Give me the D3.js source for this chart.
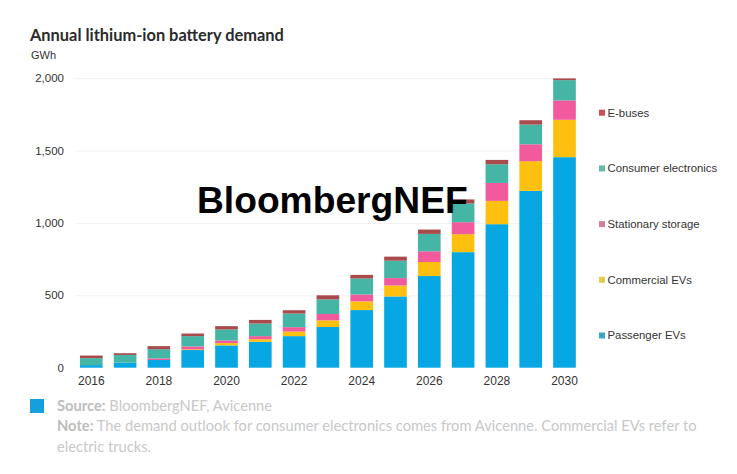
<!DOCTYPE html>
<html>
<head>
<meta charset="utf-8">
<script src="https://cdn.jsdelivr.net/npm/d3@7"></script>
<style>
html, body { margin: 0; padding: 0; background: #fff; }
svg { display: block; }
</style>
</head>
<body>
<div id="chart"></div>
<script>
const years = [2016, 2017, 2018, 2019, 2020, 2021, 2022, 2023, 2024, 2025, 2026, 2027, 2028, 2029, 2030];
const year_ticks = [2016, 2018, 2020, 2022, 2024, 2026, 2028, 2030];
const value_ticks = [0, 500, 1000, 1500, 2000];

const passenger_evs = [18, 35, 53, 122, 154, 179, 218, 281, 398, 492, 633, 798, 991, 1221, 1454];
const commercial_evs = [0, 0, 0, 5, 16, 18, 32, 46, 60, 76, 97, 124, 161, 205, 258];
const stationary_storage = [0, 0, 11, 20, 18, 21, 30, 44, 48, 51, 74, 83, 124, 117, 134];
const consumer_electronics = [48, 53, 64, 71, 76, 87, 94, 101, 110, 120, 120, 129, 129, 136, 140];
const e_buses = [18, 12, 21, 18, 23, 25, 23, 28, 25, 28, 30, 28, 30, 30, 12];

const series_names = ["Passenger EVs", "Commercial EVs", "Stationary storage", "Consumer electronics", "E-buses"];
const series_values = [passenger_evs, commercial_evs, stationary_storage, consumer_electronics, e_buses];
const bar_colors = ["#06a7e2", "#fdc00f", "#f15b9e", "#45b5a5", "#a94a4c"];
const legend_colors = ["#3ba5c0", "#e3cc4e", "#d27ea1", "#66b8a7", "#c94f54"];

const chart_width = 737;
const chart_height = 474;
const label_font = "'Liberation Sans', Arial, sans-serif";
const note_font = "Lato, sans-serif";

const svg = d3.select("#chart").append("svg")
    .attr("width", chart_width)
    .attr("height", chart_height)
    .attr("viewBox", [0, 0, chart_width, chart_height]);

svg.append("rect")
    .attr("width", chart_width)
    .attr("height", chart_height)
    .attr("fill", "#fff");

const x = d3.scaleBand()
    .domain(years)
    .range([74.4, 581.4])
    .paddingInner(0.33)
    .paddingOuter(0.165);

const y = d3.scaleLinear()
    .domain([0, 2000])
    .range([367.7, 78.1]);

// Stack the series from the bottom up
const rows = years.map((year, i) => {
    const row = {year: year};
    series_names.forEach((name, s) => row[name] = series_values[s][i]);
    return row;
});
const stacked = d3.stack().keys(series_names)(rows);

// Axes
const y_axis = svg.append("g")
    .attr("transform", "translate(75,0)")
    .call(d3.axisLeft(y)
        .tickValues(value_ticks)
        .tickSize(-502)
        .tickPadding(11)
        .tickFormat(d3.format(",")));
y_axis.select(".domain").remove();
y_axis.selectAll("line").attr("stroke", "#f4f0f4");
y_axis.selectAll(".tick").filter(d => d === 0).select("line").remove();
y_axis.selectAll("text")
    .attr("fill", "#333")
    .attr("font-family", label_font)
    .attr("font-size", 11.5);

const x_axis = svg.append("g")
    .attr("transform", "translate(0,367.7)")
    .call(d3.axisBottom(x)
        .tickValues(year_ticks)
        .tickSize(0)
        .tickPadding(9));
x_axis.select(".domain").remove();
x_axis.selectAll("text")
    .attr("fill", "#333")
    .attr("font-family", label_font)
    .attr("font-size", 12);

// Bars
svg.append("g")
    .selectAll("g")
    .data(stacked)
    .join("g")
    .attr("fill", (d, i) => bar_colors[i])
    .selectAll("rect")
    .data(d => d)
    .join("rect")
    .attr("x", d => x(d.data.year))
    .attr("y", d => y(d[1]))
    .attr("width", x.bandwidth())
    .attr("height", d => y(d[0]) - y(d[1]));

// Legend, top entry is the top of the stack
const legend_y = d3.scalePoint()
    .domain(series_names.slice().reverse())
    .range([112.7, 335.5]);

const legend = svg.append("g")
    .selectAll("g")
    .data(series_names)
    .join("g")
    .attr("transform", d => `translate(599,${legend_y(d)})`);

legend.append("rect")
    .attr("y", -3)
    .attr("width", 6)
    .attr("height", 6)
    .attr("fill", (d, i) => legend_colors[i]);

legend.append("text")
    .attr("x", 8.5)
    .attr("dy", "0.35em")
    .attr("fill", "#333")
    .attr("font-family", label_font)
    .attr("font-size", 11.35)
    .text(d => d);

// Title and unit
svg.append("text")
    .attr("x", 30)
    .attr("y", 41)
    .attr("fill", "#2b2b2b")
    .attr("font-family", note_font)
    .attr("font-weight", 700)
    .attr("font-size", 16.4)
    .text("Annual lithium-ion battery demand");

svg.append("text")
    .attr("x", 31)
    .attr("y", 59)
    .attr("fill", "#333")
    .attr("font-family", label_font)
    .attr("font-size", 11)
    .text("GWh");

// Watermark
svg.append("text")
    .attr("x", 197)
    .attr("y", 213)
    .attr("fill", "#000")
    .attr("font-family", label_font)
    .attr("font-weight", 700)
    .attr("font-size", 37.2)
    .text("BloombergNEF");

// Source block
svg.append("rect")
    .attr("x", 30)
    .attr("y", 399)
    .attr("width", 14)
    .attr("height", 14)
    .attr("fill", "#159fdc");

const note_lines = [
    {y: 411, bold: "Source:", text: " BloombergNEF, Avicenne"},
    {y: 431, bold: "Note:", text: " The demand outlook for consumer electronics comes from Avicenne. Commercial EVs refer to"},
    {y: 452, bold: "", text: "electric trucks."}
];

const note = svg.append("g")
    .selectAll("text")
    .data(note_lines)
    .join("text")
    .attr("x", 57)
    .attr("y", d => d.y)
    .attr("fill", "#c8c8c8")
    .attr("font-family", note_font)
    .attr("font-size", 14.7)
    .attr("xml:space", "preserve");

note.append("tspan")
    .attr("font-weight", 700)
    .attr("fill", "#bdbdbd")
    .text(d => d.bold);
note.append("tspan")
    .text(d => d.text);
</script>
</body>
</html>
